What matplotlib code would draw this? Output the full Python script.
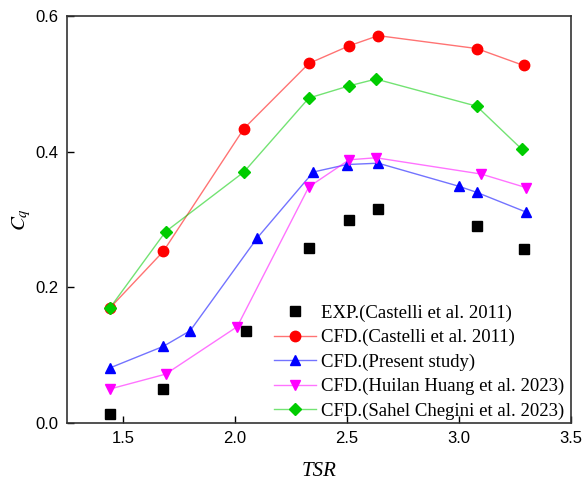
import matplotlib.pyplot as plt

# data
tsr_exp = [1.44, 1.68, 2.05, 2.33, 2.51, 2.64, 3.08, 3.29]
cq_exp = [0.014, 0.050, 0.136, 0.258, 0.299, 0.315, 0.291, 0.256]

tsr_cast = [1.44, 1.68, 2.04, 2.33, 2.51, 2.64, 3.08, 3.29]
cq_cast = [0.169, 0.253, 0.434, 0.530, 0.556, 0.571, 0.552, 0.527]

tsr_pres = [1.44, 1.68, 1.80, 2.10, 2.35, 2.50, 2.64, 3.00, 3.08, 3.30]
cq_pres = [0.081, 0.113, 0.136, 0.273, 0.370, 0.381, 0.383, 0.349, 0.340, 0.311]

tsr_huang = [1.44, 1.69, 2.01, 2.33, 2.51, 2.63, 3.10, 3.30]
cq_huang = [0.050, 0.072, 0.142, 0.348, 0.388, 0.391, 0.367, 0.347]

tsr_cheg = [1.44, 1.69, 2.04, 2.33, 2.51, 2.63, 3.08, 3.28]
cq_cheg = [0.169, 0.282, 0.370, 0.479, 0.497, 0.507, 0.467, 0.404]

plt.rcParams['mathtext.fontset'] = 'stix'

fig = plt.figure(figsize=(5.83, 4.84), dpi=100)
ax = fig.add_axes([0.115, 0.126, 0.864, 0.841])

serif = ['Liberation Serif', 'DejaVu Serif']

ax.plot(tsr_exp, cq_exp, 's', color='black', ms=6.5, label='EXP.(Castelli et al. 2011)')
ax.plot(tsr_cast, cq_cast, '-o', color='red', ms=7.5, lw=1, label='CFD.(Castelli et al. 2011)')
ax.plot(tsr_pres, cq_pres, '-^', color='blue', ms=7.5, lw=1, label='CFD.(Present study)')
ax.plot(tsr_huang, cq_huang, '-v', color='magenta', ms=7.5, lw=1, label='CFD.(Huilan Huang et al. 2023)')
ax.plot(tsr_cheg, cq_cheg, '-D', color='#00cc00', ms=6.5, lw=1, label='CFD.(Sahel Chegini et al. 2023)')

# lighter connecting lines like the original
for ln in ax.get_lines()[1:]:
    c = ln.get_color()
    ln.set_markerfacecolor(c)
    ln.set_markeredgecolor(c)
    ln.set_color((*plt.matplotlib.colors.to_rgb(c), 0.55))

ax.set_xlim(1.25, 3.5)
ax.set_ylim(0, 0.6)
ax.set_xticks([1.5, 2.0, 2.5, 3.0, 3.5])
ax.set_yticks([0.0, 0.2, 0.4, 0.6])
ax.set_xticklabels(['1.5', '2.0', '2.5', '3.0', '3.5'])
ax.set_yticklabels(['0.0', '0.2', '0.4', '0.6'])
ax.tick_params(direction='in', length=5, width=1, labelsize=12, top=False, right=False, pad=6)
for lbl in ax.get_xticklabels() + ax.get_yticklabels():
    lbl.set_family(['Liberation Sans', 'DejaVu Sans'])
for s in ax.spines.values():
    s.set_linewidth(1.2)
    s.set_color('#333333')

ax.set_xlabel('TSR', fontsize=15, style='italic', family=serif, labelpad=11)
ax.set_ylabel(r'$\mathit{C_q}$', fontsize=15, labelpad=2)

ax.legend(loc='lower right', bbox_to_anchor=(1.008, -0.017), frameon=False,
          prop={'family': serif, 'size': 13.5},
          handlelength=2.2, handletextpad=0.3, labelspacing=0.38,
          borderaxespad=0.15)

fig.savefig('out.png', dpi=100)
